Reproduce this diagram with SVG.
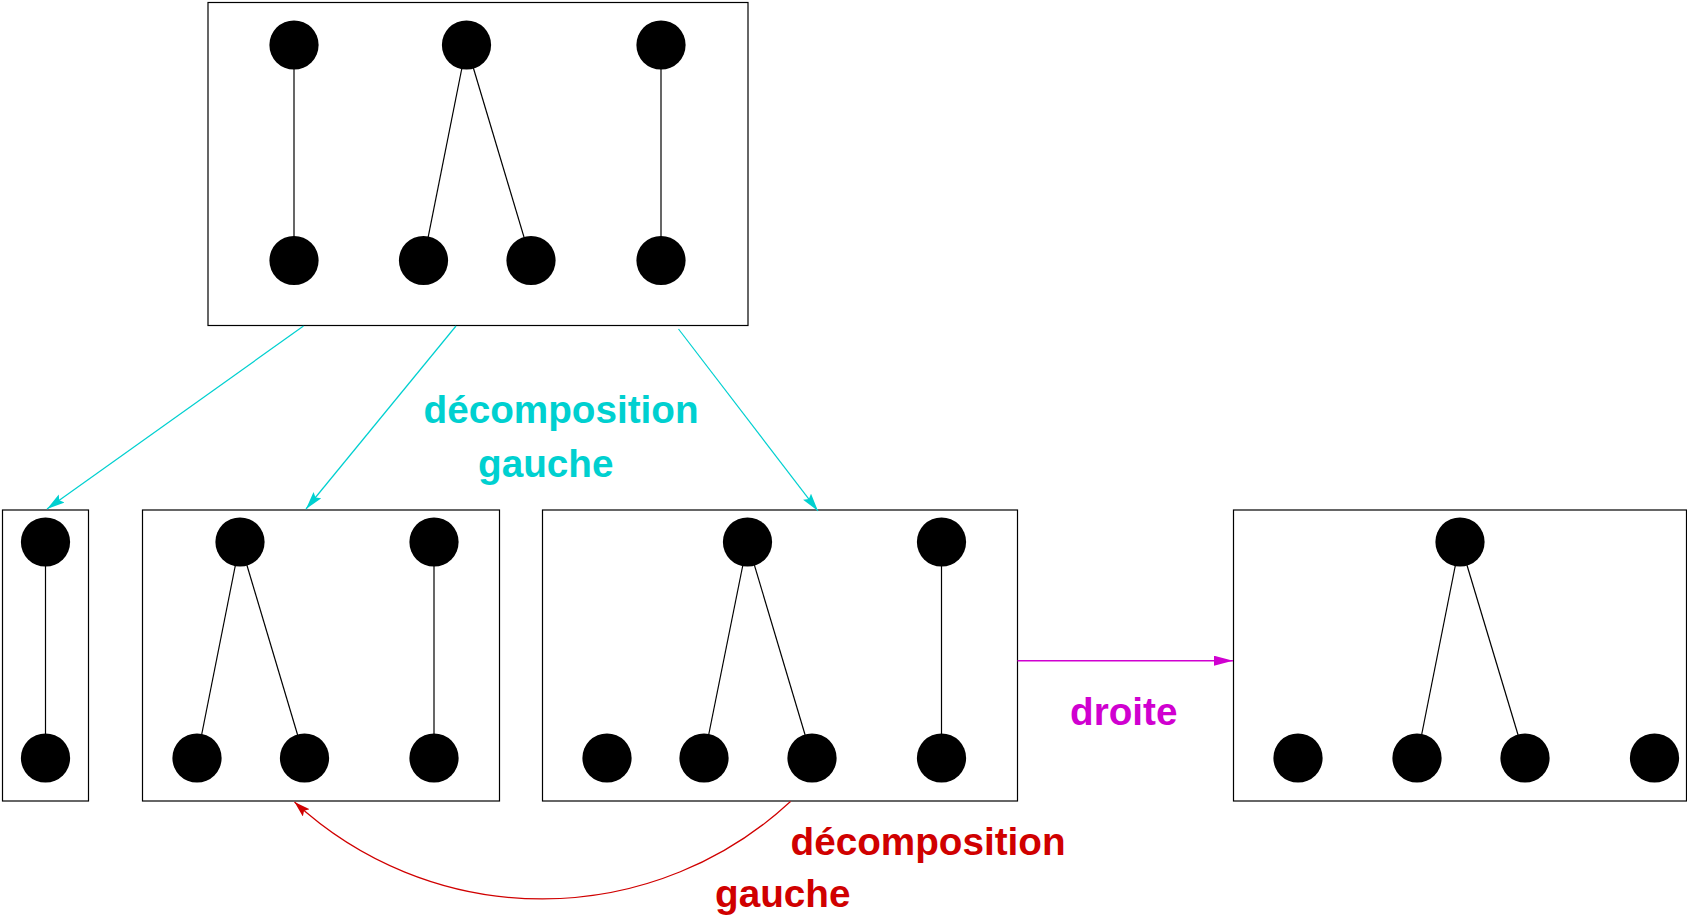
<svg xmlns="http://www.w3.org/2000/svg" width="1687" height="918" viewBox="0 0 1687 918">
<style>
.box{fill:none;stroke:#000;stroke-width:1.2}
.e{stroke:#000;stroke-width:1.2}
.n{fill:#000}
.lbl{font-family:"Liberation Sans",Arial,sans-serif;font-weight:bold;font-size:38.7px}
.cy{stroke:#00D0D0;stroke-width:1.2;fill:none}
.mg{stroke:#D000D0;stroke-width:1.5;fill:none}
.rd{stroke:#D00000;stroke-width:1.2;fill:none}
</style>
<defs>
<marker id="ac" markerUnits="userSpaceOnUse" markerWidth="20" markerHeight="12" refX="18" refY="5" orient="auto"><path d="M0,0 L18,5 L0,10 L3,5 z" fill="#00D0D0"/></marker>
<marker id="am" markerUnits="userSpaceOnUse" markerWidth="20" markerHeight="12" refX="19" refY="5" orient="auto"><path d="M0,0 L19,5 L0,10 z" fill="#D000D0"/></marker>
<marker id="ar" markerUnits="userSpaceOnUse" markerWidth="20" markerHeight="12" refX="16" refY="5" orient="auto"><path d="M0,0 L16,5 L0,10 L3,5 z" fill="#D00000"/></marker>
</defs>
<rect width="1687" height="918" fill="#fff"/>

<g id="graph-top">
<rect class="box" x="208" y="2.5" width="540" height="323"/>
<line class="e" x1="294" y1="45" x2="294" y2="260.5"/>
<line class="e" x1="466.5" y1="45" x2="423.5" y2="260.5"/>
<line class="e" x1="466.5" y1="45" x2="531" y2="260.5"/>
<line class="e" x1="661" y1="45" x2="661" y2="260.5"/>
<circle class="n" cx="294" cy="45" r="24.6"/>
<circle class="n" cx="466.5" cy="45" r="24.6"/>
<circle class="n" cx="661" cy="45" r="24.6"/>
<circle class="n" cx="294" cy="260.5" r="24.6"/>
<circle class="n" cx="423.5" cy="260.5" r="24.6"/>
<circle class="n" cx="531" cy="260.5" r="24.6"/>
<circle class="n" cx="661" cy="260.5" r="24.6"/>
</g>

<g id="graph-a">
<rect class="box" x="2.5" y="510" width="86" height="291"/>
<line class="e" x1="45.5" y1="542" x2="45.5" y2="758"/>
<circle class="n" cx="45.5" cy="542" r="24.6"/>
<circle class="n" cx="45.5" cy="758" r="24.6"/>
</g>

<g id="graph-b">
<rect class="box" x="142.5" y="510" width="357" height="291"/>
<line class="e" x1="240" y1="542" x2="197" y2="758"/>
<line class="e" x1="240" y1="542" x2="304.5" y2="758"/>
<line class="e" x1="434" y1="542" x2="434" y2="758"/>
<circle class="n" cx="240" cy="542" r="24.6"/>
<circle class="n" cx="434" cy="542" r="24.6"/>
<circle class="n" cx="197" cy="758" r="24.6"/>
<circle class="n" cx="304.5" cy="758" r="24.6"/>
<circle class="n" cx="434" cy="758" r="24.6"/>
</g>

<g id="graph-c">
<rect class="box" x="542.5" y="510" width="475" height="291"/>
<line class="e" x1="747.5" y1="542" x2="704" y2="758"/>
<line class="e" x1="747.5" y1="542" x2="812" y2="758"/>
<line class="e" x1="941.5" y1="542" x2="941.5" y2="758"/>
<circle class="n" cx="747.5" cy="542" r="24.6"/>
<circle class="n" cx="941.5" cy="542" r="24.6"/>
<circle class="n" cx="607" cy="758" r="24.6"/>
<circle class="n" cx="704" cy="758" r="24.6"/>
<circle class="n" cx="812" cy="758" r="24.6"/>
<circle class="n" cx="941.5" cy="758" r="24.6"/>
</g>

<g id="graph-d">
<rect class="box" x="1233.5" y="510" width="453" height="291"/>
<line class="e" x1="1460" y1="542" x2="1417" y2="758"/>
<line class="e" x1="1460" y1="542" x2="1525" y2="758"/>
<circle class="n" cx="1460" cy="542" r="24.6"/>
<circle class="n" cx="1298" cy="758" r="24.6"/>
<circle class="n" cx="1417" cy="758" r="24.6"/>
<circle class="n" cx="1525" cy="758" r="24.6"/>
<circle class="n" cx="1654.5" cy="758" r="24.6"/>
</g>

<g id="connectors">
<line class="cy" x1="303.5" y1="326" x2="47" y2="509" marker-end="url(#ac)"/>
<line class="cy" x1="456" y1="326" x2="306" y2="509" marker-end="url(#ac)"/>
<line class="cy" x1="678.5" y1="329" x2="818" y2="511" marker-end="url(#ac)"/>
<line class="mg" x1="1017.5" y1="660.7" x2="1233" y2="660.7" marker-end="url(#am)"/>
<path class="rd" d="M790.5,801.5 A365,365 0 0 1 294.5,802" marker-end="url(#ar)"/>
</g>

<g id="labels">
<text class="lbl" fill="#00D0D0" x="423.5" y="423">décomposition</text>
<text class="lbl" fill="#00D0D0" x="478" y="477">gauche</text>
<text class="lbl" fill="#D000D0" x="1070" y="725">droite</text>
<text class="lbl" fill="#D00000" x="790.5" y="855">décomposition</text>
<text class="lbl" fill="#D00000" x="715" y="907">gauche</text>
</g>
</svg>
